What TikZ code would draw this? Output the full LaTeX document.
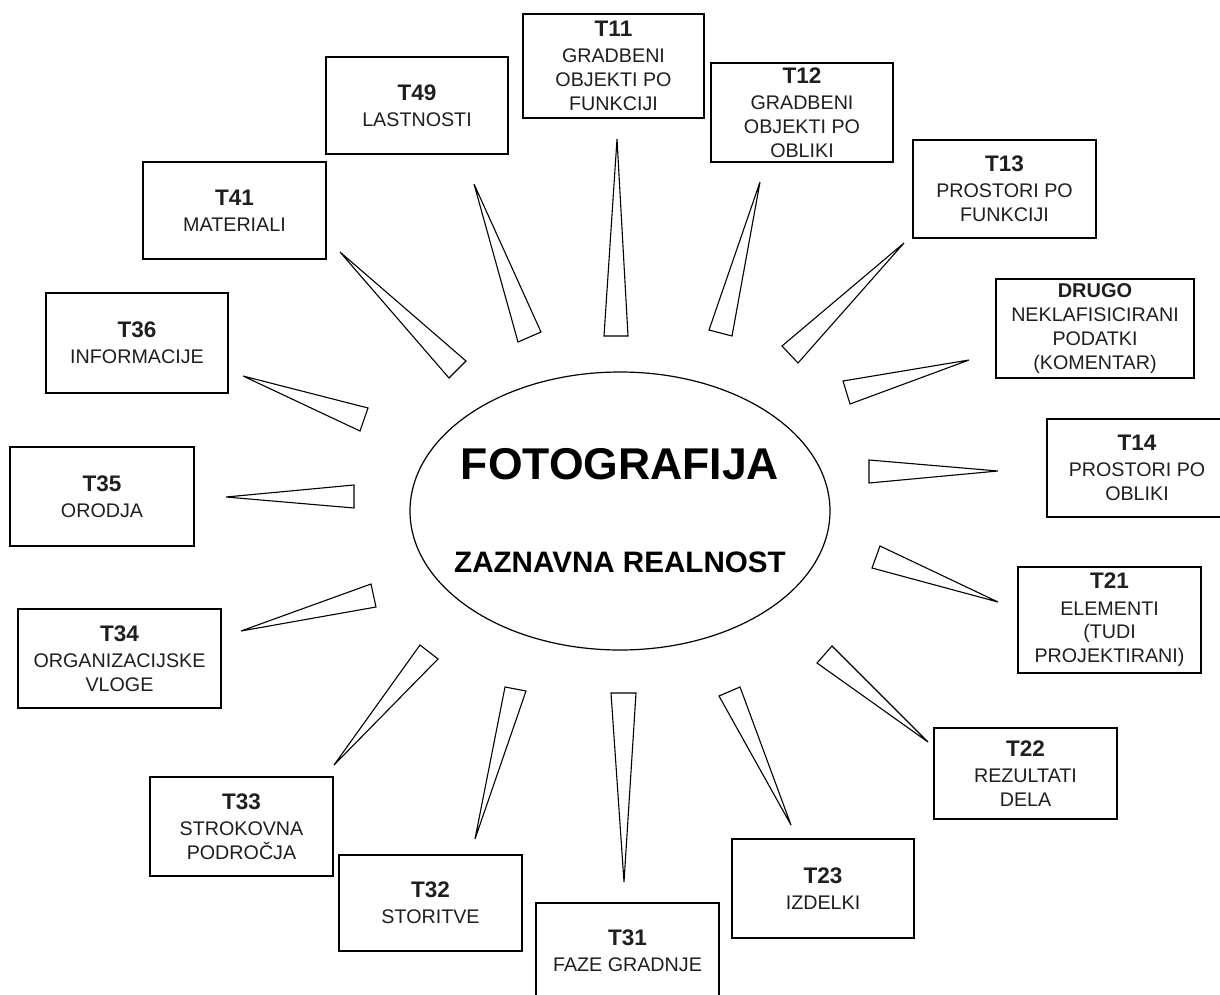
\documentclass[tikz,border=0pt]{standalone}
\usepackage{fontspec}
\setmainfont{Liberation Sans}
\usetikzlibrary{shapes.geometric}

% title line inside a category box
\newcommand\tcode[1]{{\fontsize{22.5}{23.8}\selectfont\bfseries #1}}
\newcommand\dcode[1]{{\fontsize{20}{23.8}\selectfont\bfseries #1}}

\tikzset{
  catbox/.style={draw, line width=2pt, inner sep=0pt, align=center,
    font=\fontsize{19.7}{23.8}\selectfont, text=black!88},
  spikeline/.style={draw, line width=1.1pt, line join=miter},
  hub/.style={draw, ellipse, line width=1.2pt, inner sep=0pt,
    minimum width=420pt, minimum height=278pt},
}

% thin pointed spike: tip, then the two corners of its flat end
\newcommand\spike[3]{\path[spikeline] #1 -- #2 -- #3 -- cycle;}

\begin{document}
\begin{tikzpicture}[x=1pt, y=-1pt]
\clip (0,0) rectangle (1220,995);
\fill[white] (0,0) rectangle (1220,995);

% central ellipse
\node[hub] (foto) at (620,511) {};
\node[anchor=base, font=\fontsize{44.5}{48}\selectfont\bfseries] (title) at (620,479) {FOTOGRAFIJA};
\node[anchor=base, font=\fontsize{29.6}{32}\selectfont\bfseries] (subtitle) at (620,572) {ZAZNAVNA REALNOST};

% category boxes
\node[catbox, minimum width=181pt, minimum height=104pt] (t11) at (613.5,66)
  {\tcode{T11}\\[2.3pt]GRADBENI\\OBJEKTI PO\\FUNKCIJI};
\node[catbox, minimum width=182pt, minimum height=99pt] (t12) at (802,112.5)
  {\tcode{T12}\\[2.3pt]GRADBENI\\OBJEKTI PO\\OBLIKI};
\node[catbox, minimum width=183pt, minimum height=98pt] (t13) at (1004.5,189)
  {\tcode{T13}\\[2.3pt]PROSTORI PO\\FUNKCIJI};
\node[catbox, minimum width=198pt, minimum height=99pt] (drugo) at (1095,328.5)
  {\dcode{DRUGO}\\[0.5pt]NEKLAFISICIRANI\\PODATKI\\(KOMENTAR)};
\node[catbox, minimum width=180pt, minimum height=98pt] (t14) at (1137,468)
  {\tcode{T14}\\[2.3pt]PROSTORI PO\\OBLIKI};
\node[catbox, minimum width=183pt, minimum height=106pt] (t21) at (1109.5,620)
  {\tcode{T21}\\[2.3pt]ELEMENTI\\(TUDI\\PROJEKTIRANI)};
\node[catbox, minimum width=183pt, minimum height=91pt] (t22) at (1025.5,773.5)
  {\tcode{T22}\\[2.3pt]REZULTATI\\DELA};
\node[catbox, minimum width=182pt, minimum height=99pt] (t23) at (823,888.5)
  {\tcode{T23}\\[2.3pt]IZDELKI};
\node[catbox, minimum width=183pt, minimum height=96pt] (t31) at (627.5,951)
  {\tcode{T31}\\[2.3pt]FAZE GRADNJE};
\node[catbox, minimum width=183pt, minimum height=96pt] (t32) at (430.5,902.5)
  {\tcode{T32}\\[2.3pt]STORITVE};
\node[catbox, minimum width=183pt, minimum height=99pt] (t33) at (241.5,826.5)
  {\tcode{T33}\\[2.3pt]STROKOVNA\\PODROČJA};
\node[catbox, minimum width=203pt, minimum height=99pt] (t34) at (119.5,658.5)
  {\tcode{T34}\\[2.3pt]ORGANIZACIJSKE\\VLOGE};
\node[catbox, minimum width=184pt, minimum height=99pt] (t35) at (102,496.5)
  {\tcode{T35}\\[2.3pt]ORODJA};
\node[catbox, minimum width=182pt, minimum height=100pt] (t36) at (137,343)
  {\tcode{T36}\\[2.3pt]INFORMACIJE};
\node[catbox, minimum width=183pt, minimum height=97pt] (t41) at (234.5,210.5)
  {\tcode{T41}\\[2.3pt]MATERIALI};
\node[catbox, minimum width=182pt, minimum height=97pt] (t49) at (417,105.5)
  {\tcode{T49}\\[2.3pt]LASTNOSTI};

% spikes between the ellipse and the boxes
\spike{(617,139)}{(604,336)}{(628,336)}
\spike{(760,182)}{(709,330)}{(732,336)}
\spike{(904,243)}{(782,346)}{(798,363)}
\spike{(969,360)}{(843,381)}{(850,404)}
\spike{(998,471)}{(869,460)}{(869,483)}
\spike{(998,602)}{(880,546)}{(872,568)}
\spike{(928,742)}{(832,646)}{(817,663)}
\spike{(791,825)}{(740,687)}{(719,696)}
\spike{(624,882)}{(611,693)}{(636,693)}
\spike{(475,839)}{(505,687)}{(526,691)}
\spike{(334,765)}{(420,645)}{(438,659)}
\spike{(241,631)}{(371,584)}{(376,607)}
\spike{(226,497)}{(354,485)}{(354,508)}
\spike{(243,376)}{(368,408)}{(360,431)}
\spike{(340,252)}{(449,378)}{(466,361)}
\spike{(474,184)}{(518,342)}{(541,332)}
\end{tikzpicture}
\end{document}
